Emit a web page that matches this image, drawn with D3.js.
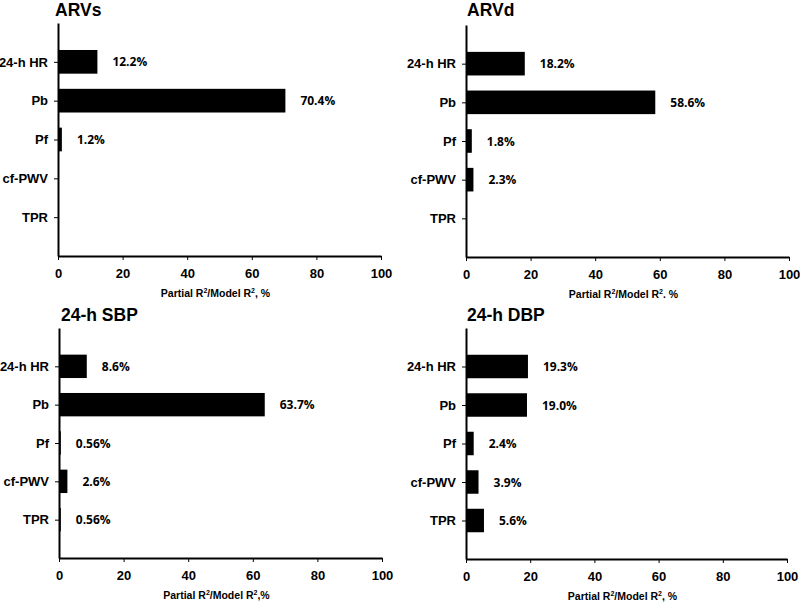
<!DOCTYPE html>
<html>
<head>
<meta charset="utf-8">
<script src="https://cdn.jsdelivr.net/npm/d3@7"></script>
<style>
  body { margin: 0; background: #fff; }
  svg { display: block; }
  .tick text { font-family: "Liberation Sans", Arial, sans-serif; font-weight: bold; font-size: 13px; fill: #000; }
  .domain, .tick line { stroke: #000; }
</style>
</head>
<body>
<div id="chart"></div>
<script>
var categories = ["24-h HR", "Pb", "Pf", "cf-PWV", "TPR"];
var xTicks = [0, 20, 40, 60, 80, 100];

var arvs = [12.2, 70.4, 1.2, null, null];
var arvd = [18.2, 58.6, 1.8, 2.3, null];
var sbp = [8.6, 63.7, 0.56, 2.6, 0.56];
var dbp = [19.3, 19.0, 2.4, 3.9, 5.6];

var titles = ["ARVs", "ARVd", "24-h SBP", "24-h DBP"];
var axisEnds = [", %", ". %", ",%", ", %"];

// panel boxes: left/right of x axis, top/bottom of y axis
var panels = [
  {vals: arvs, x0: 58, x1: 381, top: 23, bottom: 256, tx: 55, ty: 16},
  {vals: arvd, x0: 466, x1: 789, top: 25, bottom: 257, tx: 467, ty: 16},
  {vals: sbp, x0: 59, x1: 382, top: 328, bottom: 558, tx: 61, ty: 321},
  {vals: dbp, x0: 466, x1: 787, top: 328, bottom: 559, tx: 467, ty: 321}
];

var svg = d3.select("#chart").append("svg")
    .attr("width", 800)
    .attr("height", 606);

var fmt = function(v) { return (v < 1 ? v.toFixed(2) : v.toFixed(1)) + "%"; };

panels.forEach(function(p, k) {
  var x = d3.scaleLinear().domain([0, 100]).range([p.x0, p.x1]);
  var y = d3.scalePoint().domain(categories).range([p.top, p.bottom]).padding(1);
  var bh = y.step() * 0.61;

  var g = svg.append("g");

  var data = categories.map(function(c, i) { return {cat: c, v: p.vals[i]}; })
    .filter(function(d) { return d.v != null; });

  g.selectAll(".bar")
    .data(data)
    .enter().append("rect")
    .attr("class", "bar")
    .attr("x", x(0))
    .attr("y", function(d) { return y(d.cat) - bh / 2; })
    .attr("width", function(d) { return x(d.v) - x(0); })
    .attr("height", bh)
    .attr("fill", "#000");

  g.selectAll(".lbl")
    .data(data)
    .enter().append("text")
    .attr("class", "lbl")
    .attr("x", function(d) { return x(d.v) + 15; })
    .attr("y", function(d) { return y(d.cat) + 4.5; })
    .style("font-family", "'Open Sans', sans-serif")
    .style("font-weight", "bold")
    .style("font-size", "12px")
    .text(function(d) { return fmt(d.v); });

  var xa = g.append("g")
    .attr("transform", "translate(0," + p.bottom + ")")
    .call(d3.axisBottom(x).tickValues(xTicks).tickSize(4).tickSizeOuter(0).tickPadding(6));
  xa.select(".domain").attr("stroke-width", 2);
  xa.selectAll(".tick text").attr("dy", "0.9em");

  var ya = g.append("g")
    .attr("transform", "translate(" + p.x0 + ",0)")
    .call(d3.axisLeft(y).tickSize(4).tickSizeOuter(0).tickPadding(6));
  ya.select(".domain").attr("stroke-width", 2);

  svg.append("text")
    .attr("x", p.tx)
    .attr("y", p.ty)
    .style("font-family", "'Liberation Sans', Arial, sans-serif")
    .style("font-weight", "bold")
    .style("font-size", "17.5px")
    .text(titles[k]);

  var at = svg.append("text")
    .attr("x", (p.x0 + p.x1) / 2 - 4)
    .attr("y", p.bottom + 41)
    .attr("text-anchor", "middle")
    .style("font-family", "'Liberation Sans', Arial, sans-serif")
    .style("font-weight", "bold")
    .style("font-size", "10.5px");
  at.append("tspan").text("Partial R");
  at.append("tspan").attr("dy", -4).style("font-size", "7px").text("2");
  at.append("tspan").attr("dy", 4).text("/Model R");
  at.append("tspan").attr("dy", -4).style("font-size", "7px").text("2");
  at.append("tspan").attr("dy", 4).text(axisEnds[k]);
});
</script>
</body>
</html>
